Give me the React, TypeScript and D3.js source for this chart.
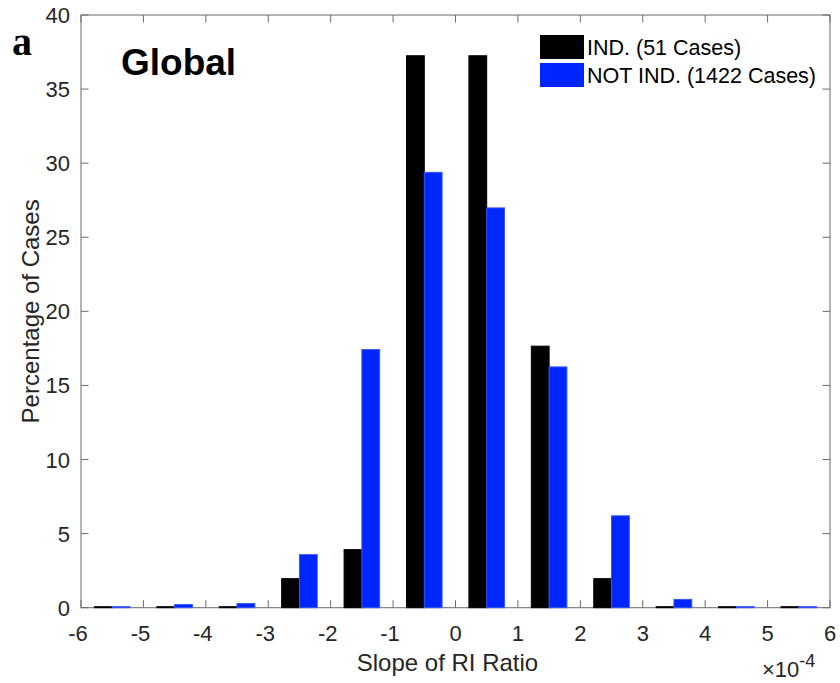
import React from "react";
import * as d3 from "d3";

const binCenters = [-5.5, -4.5, -3.5, -2.5, -1.5, -0.5, 0.5, 1.5, 2.5, 3.5, 4.5, 5.5];
const indValues = [0, 0, 0, 1.96, 3.92, 37.25, 37.25, 17.65, 1.96, 0, 0, 0];
const notIndValues = [0.07, 0.21, 0.28, 3.58, 17.42, 29.38, 26.98, 16.25, 6.2, 0.56, 0.07, 0.07];
const xTicks = [-6, -5, -4, -3, -2, -1, 0, 1, 2, 3, 4, 5, 6];
const yTicks = [0, 5, 10, 15, 20, 25, 30, 35, 40];
const seriesNames = ["IND. (51 Cases)", "NOT IND. (1422 Cases)"];
const seriesColors = ["#000000", "#0026ff"];

export default function App() {
  const W = 840, H = 683;
  const left = 81, right = 830, top = 15, bottom = 607.7;
  const x = d3.scaleLinear().domain([-6, 6]).range([left, right]);
  const y = d3.scaleLinear().domain([0, 40]).range([bottom, top]);
  const barW = 0.285;
  const axisColor = "#6b6b6b";
  const textColor = "#262626";
  const font = "'Liberation Sans', Arial, Helvetica, sans-serif";
  const tickLen = 7.5;

  const barRect = (x0: number, x1: number, v: number, fill: string, stroke: string, key: string) => {
    const yt = Math.min(y(v), bottom - 1);
    return (
      <rect key={key} x={x0} y={yt} width={x1 - x0} height={bottom - yt}
        fill={fill} stroke={stroke} strokeWidth={1} />
    );
  };

  return (
    <svg width={W} height={H} style={{ position: "absolute", left: 0, top: 0, background: "#fff" }}>
      {/* box */}
      <rect x={left} y={top} width={right - left} height={bottom - top} fill="none" stroke={axisColor} strokeWidth={1} />
      {/* x ticks */}
      {xTicks.map((t) => (
        <g key={"x" + t}>
          <line x1={x(t)} x2={x(t)} y1={bottom} y2={bottom - tickLen} stroke={axisColor} />
          <line x1={x(t)} x2={x(t)} y1={top} y2={top + tickLen} stroke={axisColor} />
          <text x={x(t) - (t < 0 ? 3 : 0)} y={641} textAnchor="middle" fontSize={22} fill={textColor} fontFamily={font}>{t}</text>
        </g>
      ))}
      {/* y ticks */}
      {yTicks.map((t) => (
        <g key={"y" + t}>
          <line x1={left} x2={left + tickLen} y1={y(t)} y2={y(t)} stroke={axisColor} />
          <line x1={right} x2={right - tickLen} y1={y(t)} y2={y(t)} stroke={axisColor} />
          <text x={70} y={y(t) + 8} textAnchor="end" fontSize={22} fill={textColor} fontFamily={font}>{t}</text>
        </g>
      ))}
      {/* bars */}
      {binCenters.map((c, i) => (
        <g key={i}>
          {barRect(x(c - barW), x(c), indValues[i], seriesColors[0], seriesColors[0], "a" + i)}
          {barRect(x(c), x(c + barW), notIndValues[i], seriesColors[1], "#3355ff", "b" + i)}
        </g>
      ))}
      {/* axis labels */}
      <text x={x(0) - 8} y={671} textAnchor="middle" fontSize={24} fill={textColor} fontFamily={font}>Slope of RI Ratio</text>
      <text transform={`translate(39, ${(top + bottom) / 2}) rotate(-90)`} textAnchor="middle" fontSize={24} fill={textColor} fontFamily={font}>Percentage of Cases</text>
      <text x={762} y={677} fontSize={22} fill={textColor} fontFamily={font}>
        ×10<tspan dy={-10} fontSize={18}>-4</tspan>
      </text>
      {/* panel letter and title */}
      <text x={12} y={55} fontSize={40} fontWeight="bold" fontFamily="'Liberation Serif', 'Times New Roman', serif" fill="#000">a</text>
      <text x={121} y={75} fontSize={37} fontWeight="bold" fontFamily={font} fill="#000">Global</text>
      {/* legend */}
      {seriesNames.map((n, i) => (
        <g key={n}>
          <rect x={540} y={35 + i * 28} width={44} height={24} fill={seriesColors[i]} />
          <text x={587} y={55 + i * 28} fontSize={21.5} fill="#000" fontFamily={font}>{n}</text>
        </g>
      ))}
    </svg>
  );
}
